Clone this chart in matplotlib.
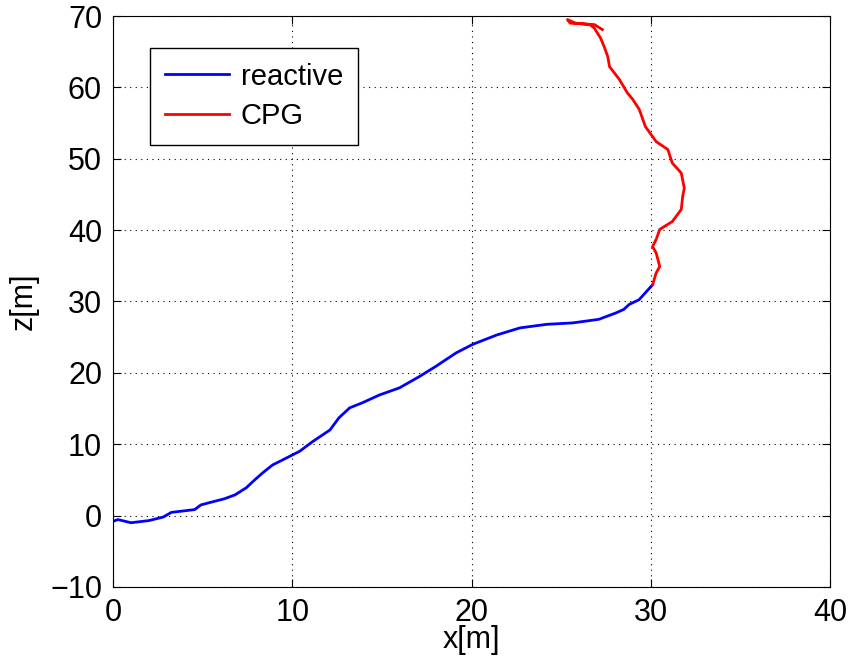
import numpy as np
import matplotlib
matplotlib.use('Agg')
import matplotlib.pyplot as plt

plt.rcParams['font.family'] = ['Liberation Sans', 'DejaVu Sans']

# reactive walk (blue)
reactive_x = [0.0, 0.27, 1.0, 2.0, 2.8, 3.25, 4.55, 4.9, 5.66, 6.2, 6.8, 7.43, 7.9, 8.35,
              8.9, 9.3, 10.4, 11.15, 12.1, 12.6, 13.2, 13.9, 14.86, 15.98, 17.1, 18.0,
              19.14, 20.07, 21.4, 22.7, 24.2, 25.65, 27.1, 28.06, 28.5, 28.8, 29.35, 30.1]
reactive_z = [-0.8, -0.56, -1.0, -0.7, -0.2, 0.45, 0.84, 1.5, 2.0, 2.35, 2.9, 3.9, 5.0, 6.0,
              7.1, 7.6, 9.0, 10.4, 12.0, 13.7, 15.1, 15.8, 16.9, 17.9, 19.5, 20.9,
              22.8, 24.0, 25.3, 26.3, 26.8, 27.0, 27.5, 28.4, 28.9, 29.6, 30.25, 32.35]

# CPG walk (red)
cpg_x = [30.1, 30.3, 30.5, 30.3, 30.1, 30.3, 30.5, 31.2, 31.7, 31.78, 31.87, 31.7, 31.2,
         30.95, 30.3, 29.7, 29.36, 29.0, 28.7, 28.25, 27.7, 27.6, 27.4, 27.2, 26.85, 26.6,
         25.8, 25.35, 25.5, 26.2, 26.85, 27.3]
cpg_z = [32.35, 34.0, 34.9, 36.8, 37.7, 38.7, 40.1, 41.2, 42.9, 44.7, 45.9, 48.0, 49.4,
         51.3, 52.4, 54.5, 56.9, 58.3, 59.2, 61.1, 62.9, 64.3, 65.7, 66.9, 68.3, 68.8,
         69.0, 69.5, 69.0, 68.9, 68.8, 68.1]

fig = plt.figure(figsize=(8.57, 6.67), dpi=100)
ax = fig.add_axes([0.132, 0.120, 0.8365, 0.856])

ax.plot(reactive_x, reactive_z, color='blue', linewidth=2.0, label='reactive')
ax.plot(cpg_x, cpg_z, color='red', linewidth=2.0, label='CPG')

ax.set_xlim(0, 40)
ax.set_ylim(-10, 70)
ax.set_xticks(np.arange(0, 41, 10))
ax.set_yticks(np.arange(-10, 71, 10))
ax.grid(True, color='black', linestyle=(0, (1, 4)), linewidth=0.8)
ax.tick_params(direction='in', top=True, right=True, labelsize=22, length=6, pad=8)
ax.set_xlabel('x[m]', fontsize=22, labelpad=-2)
ax.set_ylabel('z[m]', fontsize=22, labelpad=8)

leg = ax.legend(loc='upper left', bbox_to_anchor=(0.052, 0.944), borderaxespad=0,
                fontsize=21, fancybox=False, framealpha=1, edgecolor='black',
                handlelength=2.2, borderpad=0.5, labelspacing=0.4, handletextpad=0.4)
leg.get_frame().set_linewidth(1.0)

fig.savefig('out.png', dpi=100)
